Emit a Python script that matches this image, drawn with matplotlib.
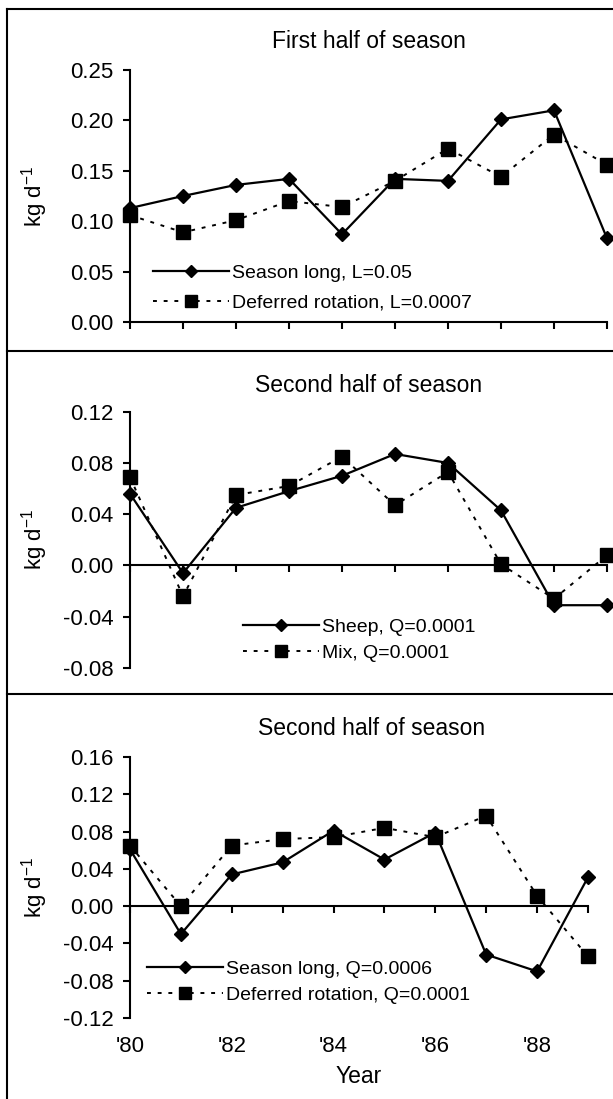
import matplotlib
matplotlib.use('Agg')
import matplotlib.pyplot as plt
from matplotlib.lines import Line2D
import numpy as np

plt.rcParams['font.family'] = ['Liberation Sans', 'DejaVu Sans']

years = np.arange(1980, 1990)
year_labels = ["'80", "'82", "'84", "'86", "'88"]

# panel 1: first half of season
first_season_long = [0.113, 0.125, 0.136, 0.142, 0.087, 0.142, 0.140, 0.201, 0.210, 0.083]
first_deferred = [0.106, 0.089, 0.101, 0.120, 0.114, 0.140, 0.172, 0.144, 0.186, 0.156]

# panel 2: second half, sheep vs mix
second_sheep = [0.056, -0.006, 0.045, 0.058, 0.070, 0.087, 0.080, 0.043, -0.031, -0.031]
second_mix = [0.069, -0.024, 0.055, 0.062, 0.085, 0.047, 0.073, 0.001, -0.026, 0.008]

# panel 3: second half, grazing system
second_season_long = [0.061, -0.030, 0.034, 0.047, 0.081, 0.050, 0.079, -0.052, -0.070, 0.031]
second_deferred = [0.065, 0.000, 0.065, 0.072, 0.074, 0.084, 0.074, 0.097, 0.011, -0.054]

W, H = 613, 1099
fig = plt.figure(figsize=(W / 100, H / 100), dpi=100)

solid = dict(color='black', lw=1.6, ls='-', marker='D', ms=7.5, clip_on=False, zorder=3)
dashed = dict(color='black', lw=1.4, ls=(0, (2, 3.5)), marker='s', ms=10.5, clip_on=False, zorder=3)


def panel(rect, title, ylim, yticks, s1, s2, lab1, lab2, leg_x, leg_y, spacing, title_x=0.5, title_pad=16):
    ax = fig.add_axes(rect)
    ax.plot(years, s1, **solid)
    ax.plot(years, s2, **dashed)
    ax.set_xlim(1980, 1989)
    ax.set_ylim(*ylim)
    ax.set_yticks(yticks)
    ax.set_yticklabels(['%.2f' % t for t in yticks])
    ax.set_xticks(years)
    ax.set_xticklabels([])
    for s in ['top', 'right']:
        ax.spines[s].set_visible(False)
    for s in ['left', 'bottom']:
        ax.spines[s].set_linewidth(1.5)
    ax.spines['bottom'].set_position(('data', 0))
    ax.tick_params(axis='y', direction='out', length=5, width=1.5, pad=7, labelsize=16)
    ax.tick_params(axis='x', direction='out', length=5, width=1.5)
    ax.set_title(title, fontsize=16.5, pad=title_pad, x=title_x)
    ax.set_ylabel('kg d$^{\\mathregular{-1}}$', fontsize=16)
    ax.yaxis.set_label_coords(-80 / (rect[2] * W), 0.5)
    handles = [Line2D([], [], **{k: v for k, v in solid.items() if k != 'clip_on'}),
               Line2D([], [], **{k: v for k, v in dashed.items() if k != 'clip_on'})]
    ax.legend(handles, [lab1, lab2], loc='center left', bbox_to_anchor=(leg_x, leg_y),
              frameon=False, fontsize=14, borderpad=0, borderaxespad=0,
              handlelength=3.9, handletextpad=0.15, labelspacing=spacing,
              numpoints=1, markerscale=0.8)
    return ax


ax1 = panel([130 / W, 1 - 322 / H, 477 / W, 252 / H], 'First half of season',
            (0, 0.25), np.arange(0, 0.26, 0.05), first_season_long, first_deferred,
            'Season long, L=0.05', 'Deferred rotation, L=0.0007', 0.048, 0.135, 0.6)

ax2 = panel([130 / W, 1 - 668 / H, 477 / W, 256.3 / H], 'Second half of season',
            (-0.08, 0.12), np.arange(-0.08, 0.121, 0.04), second_sheep, second_mix,
            'Sheep, Q=0.0001', 'Mix, Q=0.0001', 0.237, 0.109, 0.43, title_pad=14)

ax3 = panel([130 / W, 1 - 1018 / H, 458 / W, 261 / H], 'Second half of season',
            (-0.12, 0.16), np.arange(-0.12, 0.161, 0.04), second_season_long, second_deferred,
            'Season long, Q=0.0006', 'Deferred rotation, Q=0.0001', 0.037, 0.138, 0.43,
            title_x=0.528)

sec = ax3.secondary_xaxis(0)
sec.set_xticks(years[::2])
sec.set_xticklabels(year_labels)
sec.tick_params(length=0, pad=13, labelsize=16)
sec.spines['bottom'].set_visible(False)
sec.set_xlabel('Year', fontsize=16.5, labelpad=6)

# panel frames
fig.add_artist(Line2D([7 / W, 7 / W], [0, 1 - 9 / H], color='black', lw=1.5))
for y in [9, 351, 694]:
    fig.add_artist(Line2D([7 / W, 1], [1 - y / H, 1 - y / H], color='black', lw=1.5))

fig.savefig('out.png', dpi=100)
